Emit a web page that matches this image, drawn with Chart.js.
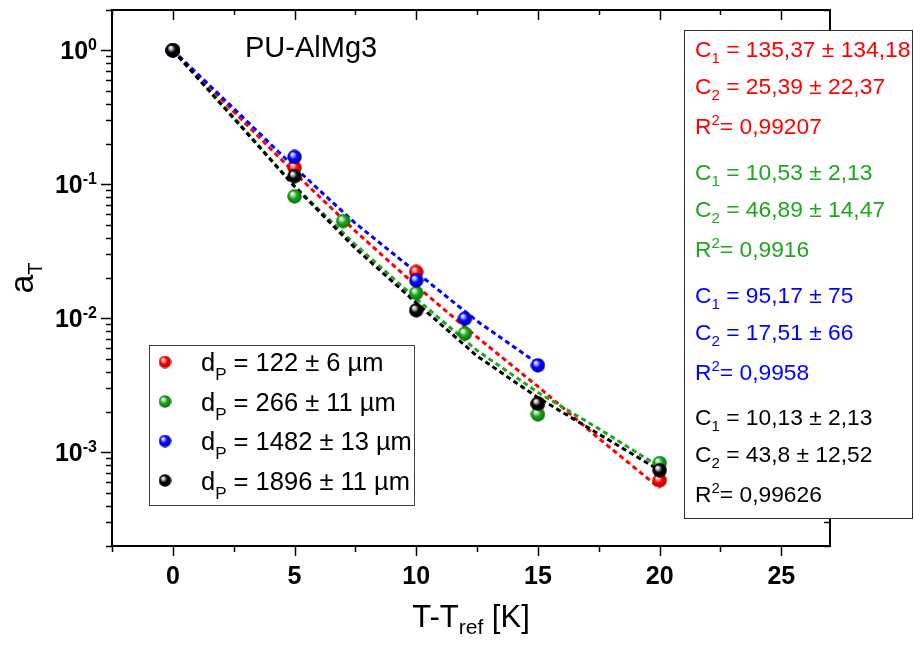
<!DOCTYPE html>
<html>
<head>
<meta charset="utf-8">
<script src="https://cdn.jsdelivr.net/npm/chart.js@4.4.1/dist/chart.umd.min.js"></script>
<style>
  html, body { margin: 0; padding: 0; background: #ffffff; }
  #wrap { width: 914px; height: 646px; position: relative; }
</style>
</head>
<body>
<div id="wrap"><canvas id="c" width="914" height="646"></canvas></div>
<script>
// ---- measured shift factors a_T versus T - T_ref ----
const redX   = [0, 5, 10, 15, 20];
const redY   = [1, 0.133, 0.0222, 0.0023, 0.000618];
const greenX = [0, 5, 7, 10, 12, 15, 20];
const greenY = [1, 0.0813, 0.0532, 0.01545, 0.00769, 0.00192, 0.000832];
const blueX  = [0, 5, 10, 12, 15];
const blueY  = [1, 0.160, 0.0192, 0.00995, 0.00446];
const blackX = [0, 5, 10, 15, 20];
const blackY = [1, 0.115, 0.01148, 0.00231, 0.000734];

// ---- WLF fit curves, sampled along T - T_ref ----
const fitX      = [0, 2.5, 5, 7.5, 10, 12.5, 15, 17.5, 20];
const redFit    = [1, 0.349, 0.122, 0.0447, 0.0175, 0.00723, 0.00310, 0.00127, 0.00054];
const greenFit  = [1, 0.317, 0.097, 0.0355, 0.0140, 0.00575, 0.00280, 0.00150, 0.00078];
const blueFitX  = [0, 2.5, 5, 7.5, 10, 12.5, 15];
const blueFit   = [1, 0.369, 0.134, 0.0512, 0.0221, 0.00953, 0.00459];
const blackFit  = [1, 0.311, 0.0963, 0.0333, 0.01306, 0.00523, 0.00256, 0.00137, 0.000734];

// ---- labels ----
const sizeLabels = ['122 \u00B1 6 \u00B5m', '266 \u00B1 11 \u00B5m', '1482 \u00B1 13 \u00B5m', '1896 \u00B1 11 \u00B5m'];
const fitC1 = ['135,37 \u00B1 134,18', '10,53 \u00B1 2,13', '95,17 \u00B1 75', '10,13 \u00B1 2,13'];
const fitC2 = ['25,39 \u00B1 22,37', '46,89 \u00B1 14,47', '17,51 \u00B1 66', '43,8 \u00B1 12,52'];
const fitR2 = ['0,99207', '0,9916', '0,9958', '0,99626'];
const xTickValues = [0, 5, 10, 15, 20, 25];
const yTickExponents = [0, -1, -2, -3];
const sampleName = 'PU-AlMg3';

const FONT = '"Liberation Sans", Arial, Helvetica, sans-serif';
const seriesColors = ['#ff0000', '#1fa51f', '#0000ff', '#000000'];
const highlightColors = ['#ffb0b0', '#b8f0b8', '#b0b0ff', '#c8c8c8'];
const edgeColors = ['#b00000', '#0a6a0a', '#0000a0', '#000000'];

// shaded sphere used as point marker
function ball(i, size) {
  const c = document.createElement('canvas');
  c.width = size; c.height = size;
  const g = c.getContext('2d');
  const r = size / 2;
  const grad = g.createRadialGradient(r - r * 0.35, r - r * 0.4, 0.3, r, r, r);
  grad.addColorStop(0, '#ffffff');
  grad.addColorStop(0.18, highlightColors[i]);
  grad.addColorStop(0.5, seriesColors[i]);
  grad.addColorStop(1, edgeColors[i]);
  g.fillStyle = grad;
  g.beginPath();
  g.arc(r, r, r - 0.3, 0, Math.PI * 2);
  g.fill();
  return c;
}

const pts = (xs, ys) => xs.map((v, k) => ({ x: v, y: ys[k] }));
const markerSets = [[redX, redY], [greenX, greenY], [blueX, blueY], [blackX, blackY]];
const fitSets = [[fitX, redFit], [fitX, greenFit], [blueFitX, blueFit], [fitX, blackFit]];

const datasets = [];
fitSets.forEach(([xs, ys], i) => {
  datasets.push({
    type: 'line',
    data: pts(xs, ys),
    borderColor: seriesColors[i],
    borderWidth: 3,
    borderDash: [5, 3.5],
    pointRadius: 0,
    fill: false,
    tension: 0,
    order: 14 - i
  });
});
markerSets.forEach(([xs, ys], i) => {
  datasets.push({
    type: 'scatter',
    data: pts(xs, ys),
    pointStyle: ball(i, 15),
    pointRadius: 7,
    showLine: false,
    order: 4 - i
  });
});

function drawSub(ctx, x, y, base, baseFont, sub, subFont, dy) {
  ctx.font = baseFont;
  ctx.fillText(base, x, y);
  const w = ctx.measureText(base).width;
  ctx.font = subFont;
  ctx.fillText(sub, x + w, y + dy);
  return x + w + ctx.measureText(sub).width;
}

const decorations = {
  id: 'decorations',
  afterDraw(chart) {
    const { ctx, chartArea: a, scales: { x, y } } = chart;
    ctx.save();
    ctx.strokeStyle = '#000';
    ctx.fillStyle = '#000';

    // ticks on all four sides
    ctx.lineWidth = 1.5;
    ctx.beginPath();
    for (let v = -2.5; v <= 27.0001; v += 2.5) {
      const px = Math.round(x.getPixelForValue(v)) + 0.5;
      const major = Math.abs(v % 5) < 1e-9;
      const len = major ? 10 : 6;
      ctx.moveTo(px, a.bottom); ctx.lineTo(px, a.bottom + len);
      ctx.moveTo(px, a.top); ctx.lineTo(px, a.top + (major ? 10 : 5));
    }
    for (let d = -4; d <= 0; d++) {
      for (let m = 1; m <= 9; m++) {
        const v = m * Math.pow(10, d);
        if (v < y.min * 0.999 || v > y.max * 1.001) continue;
        const py = Math.round(y.getPixelForValue(v)) + 0.5;
        const len = m === 1 ? 11 : 6;
        ctx.moveTo(a.left - len, py); ctx.lineTo(a.left, py);
        ctx.moveTo(a.right, py); ctx.lineTo(a.right - len, py);
      }
    }
    ctx.stroke();

    // frame
    ctx.lineWidth = 2;
    ctx.strokeRect(a.left, a.top, a.right - a.left, a.bottom - a.top);

    // x tick labels
    ctx.font = 'bold 25px ' + FONT;
    ctx.textAlign = 'center';
    ctx.textBaseline = 'alphabetic';
    xTickValues.forEach(v => ctx.fillText(String(v), x.getPixelForValue(v), 584));

    // y tick labels 10^n
    ctx.textAlign = 'left';
    yTickExponents.forEach(e => {
      const py = y.getPixelForValue(Math.pow(10, e));
      const expText = e === 0 ? '0' : '-' + Math.abs(e);
      ctx.font = 'bold 25px ' + FONT;
      const wBase = ctx.measureText('10').width;
      ctx.font = 'bold 16px ' + FONT;
      const wExp = ctx.measureText(expText).width;
      const x0 = 97 - wBase - wExp;
      ctx.font = 'bold 25px ' + FONT;
      ctx.fillText('10', x0, py + 9);
      ctx.font = 'bold 16px ' + FONT;
      ctx.fillText(expText, x0 + wBase, py);
    });

    // x axis title  T-T_ref [K]
    ctx.font = '31px ' + FONT;
    const w1 = ctx.measureText('T-T').width;
    const w3 = ctx.measureText(' [K]').width;
    ctx.font = '21px ' + FONT;
    const w2 = ctx.measureText('ref').width;
    let tx = (a.left + a.right) / 2 - (w1 + w2 + w3) / 2;
    ctx.font = '31px ' + FONT;
    ctx.fillText('T-T', tx, 627);
    ctx.font = '21px ' + FONT;
    ctx.fillText('ref', tx + w1, 634);
    ctx.font = '31px ' + FONT;
    ctx.fillText(' [K]', tx + w1 + w2, 627);

    // y axis title  a_T
    ctx.save();
    ctx.translate(33, (a.top + a.bottom) / 2);
    ctx.rotate(-Math.PI / 2);
    ctx.font = '34px ' + FONT;
    const wa = ctx.measureText('a').width;
    ctx.font = '20px ' + FONT;
    const wt = ctx.measureText('T').width;
    const ax0 = -(wa + wt) / 2;
    ctx.font = '34px ' + FONT;
    ctx.fillText('a', ax0, 0);
    ctx.font = '20px ' + FONT;
    ctx.fillText('T', ax0 + wa, 9);
    ctx.restore();

    // sample name
    ctx.font = '29px ' + FONT;
    ctx.fillText(sampleName, 245, 57);

    // legend
    ctx.lineWidth = 1;
    ctx.strokeStyle = '#404040';
    ctx.strokeRect(149.5, 345.5, 265, 160);
    const rowY = [362, 401.5, 441, 480.5];
    sizeLabels.forEach((lab, i) => {
      const s = ball(i, 13);
      ctx.drawImage(s, 165 - 6.5, rowY[i] - 6.5);
      ctx.fillStyle = '#000';
      const bx = drawSub(ctx, 201, rowY[i] + 9, 'd', '25.5px ' + FONT, 'P', '17px ' + FONT, 9);
      ctx.font = '25.5px ' + FONT;
      ctx.fillText(' = ' + lab, bx, rowY[i] + 9);
    });

    // fit parameter box
    ctx.fillStyle = '#ffffff';
    ctx.fillRect(684.5, 30.5, 228, 488);
    ctx.strokeStyle = '#303030';
    ctx.strokeRect(684.5, 30.5, 228, 488);
    const groupY = [57, 180, 303, 425];
    const lineF = '22.8px ' + FONT;
    const subF = '15px ' + FONT;
    groupY.forEach((gy, i) => {
      ctx.fillStyle = seriesColors[i];
      const tx0 = 695;
      let bx = drawSub(ctx, tx0, gy, 'C', lineF, '1', subF, 6);
      ctx.font = lineF; ctx.fillText(' = ' + fitC1[i], bx, gy);
      bx = drawSub(ctx, tx0, gy + 37, 'C', lineF, '2', subF, 6);
      ctx.font = lineF; ctx.fillText(' = ' + fitC2[i], bx, gy + 37);
      bx = drawSub(ctx, tx0, gy + 77, 'R', lineF, '2', subF, -9);
      ctx.font = lineF; ctx.fillText('= ' + fitR2[i], bx, gy + 77);
    });

    ctx.restore();
  }
};

new Chart(document.getElementById('c'), {
  data: { datasets },
  options: {
    responsive: false,
    animation: false,
    devicePixelRatio: 1,
    events: [],
    layout: { padding: { left: 112, right: 84, top: 10, bottom: 100 } },
    plugins: { legend: { display: false }, tooltip: { enabled: false } },
    scales: {
      x: { type: 'linear', min: -2.5, max: 27, display: false },
      y: { type: 'logarithmic', min: 2e-4, max: 2, display: false }
    }
  },
  plugins: [decorations]
});
</script>
</body>
</html>
